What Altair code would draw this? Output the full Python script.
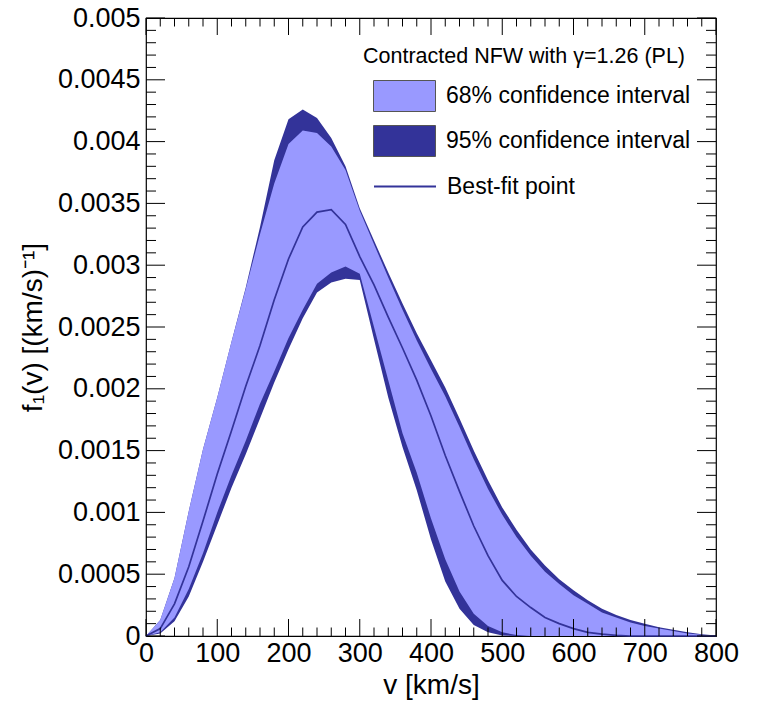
import altair as alt
import pandas as pd

# ---- data (v in km/s, f in (km/s)^-1) ----
v = list(range(0, 801, 20))

upper95 = [0, 0.00013, 0.00047, 0.00101, 0.00151, 0.00193, 0.00238, 0.00282, 0.00331, 0.00385,
           0.00418, 0.00426, 0.00419, 0.00403, 0.00380, 0.00346, 0.00320, 0.00294, 0.00269, 0.00245,
           0.00223, 0.00201, 0.00176, 0.00150, 0.00126, 0.00104, 0.00086, 0.00070, 0.00057, 0.00046,
           0.00037, 0.00029, 0.00022, 0.00017, 0.00013, 0.00010, 0.00007, 0.00005, 0.00003, 0.000015,
           0.000005]
upper68 = [0, 0.00013, 0.00047, 0.00101, 0.00151, 0.00193, 0.00238, 0.00281, 0.00325, 0.00366,
           0.00398, 0.00409, 0.00407, 0.00396, 0.00377, 0.00344, 0.00317, 0.00290, 0.00264, 0.00239,
           0.00216, 0.00194, 0.00169, 0.00143, 0.00119, 0.00098, 0.00080, 0.00065, 0.00052, 0.00042,
           0.00033, 0.00026, 0.00019, 0.00015, 0.00011, 0.00008, 0.00006, 0.00004, 0.00002, 0.00001,
           0.000003]
best = [0, 0.00006, 0.00026, 0.00056, 0.00093, 0.00131, 0.00166, 0.00202, 0.00235, 0.00272,
        0.00305, 0.00331, 0.00343, 0.00345, 0.00333, 0.00307, 0.00284, 0.00258, 0.00233, 0.00207,
        0.00178, 0.00146, 0.00117, 0.00089, 0.00065, 0.00045, 0.00032, 0.00023, 0.00015, 0.00010,
        0.00006, 0.00003, 0.000015, 0.000005, 0, 0, 0, 0, 0, 0,
        0]
lower68 = [0, 0.00003, 0.00015, 0.00038, 0.00067, 0.00100, 0.00130, 0.00158, 0.00188, 0.00214,
           0.00241, 0.00264, 0.00285, 0.00294, 0.00299, 0.00293, 0.00250, 0.00207, 0.00164, 0.00132,
           0.00095, 0.00062, 0.00036, 0.00018, 0.00008, 0.00003, 0.000008, 0, 0, 0,
           0, 0, 0, 0, 0, 0, 0, 0, 0, 0,
           0]
lower95 = [0, 0.00002, 0.00012, 0.00032, 0.00060, 0.00090, 0.00120, 0.00147, 0.00176, 0.00205,
           0.00232, 0.00257, 0.00278, 0.00286, 0.00289, 0.00288, 0.00240, 0.00193, 0.00153, 0.00118,
           0.00078, 0.00044, 0.00022, 0.00009, 0.00003, 0.000005, 0, 0, 0, 0,
           0, 0, 0, 0, 0, 0, 0, 0, 0, 0,
           0]

x_major = [0, 100, 200, 300, 400, 500, 600, 700, 800]
x_minor = [t for t in range(0, 801, 20) if t % 100 != 0]
y_major = [0, 0.0005, 0.001, 0.0015, 0.002, 0.0025, 0.003, 0.0035, 0.004, 0.0045, 0.005]
y_minor = [round(i * 0.0001, 4) for i in range(51) if i % 5 != 0]

LAB68 = "68% confidence interval"
LAB95 = "95% confidence interval"
LABBF = "Best-fit point"
LIGHT = "#9999ff"
DARK = "#333399"
FONT = "Liberation Sans"

W, H = 570, 618

band95 = pd.DataFrame({"v": v, "lo": lower95, "hi": upper95, "band": LAB95})
band68 = pd.DataFrame({"v": v, "lo": lower68, "hi": upper68, "band": LAB68})
bestdf = pd.DataFrame({"v": v, "f": best, "name": LABBF})

xs = alt.Scale(domain=[0, 800], nice=False, zero=False)
ys = alt.Scale(domain=[0, 0.005], nice=False, zero=False)

fill_scale = alt.Scale(domain=[LAB68, LAB95], range=[LIGHT, DARK])
fill_legend = alt.Legend(
    title="Contracted NFW with γ=1.26 (PL)", orient="none", legendX=217, legendY=28,
    symbolType="M-1,-0.5H1V0.5H-1Z", symbolSize=3844, symbolStrokeColor="#555555",
    symbolStrokeWidth=1, symbolOpacity=1, clipHeight=33, rowPadding=12, padding=0,
    titlePadding=12, titleFontSize=21.5, titleFontWeight="normal", titleFont=FONT,
    titleColor="black", titleLimit=500, labelLimit=500, labelFontSize=23, labelFont=FONT,
    labelColor="black", symbolOffset=10, labelOffset=10)

x_axis = alt.Axis(values=x_major, format="d", ticks=False, domain=False, grid=False,
                  labelFontSize=27, labelFont=FONT, labelColor="black", labelPadding=4,
                  title="v [km/s]", titleFontSize=28, titleFont=FONT, titleFontWeight="normal",
                  titleColor="black", titlePadding=5, labelFlush=False)
y_axis = alt.Axis(values=y_major, format="~g", ticks=False, domain=False, grid=False,
                  labelFontSize=27, labelFont=FONT, labelColor="black", labelPadding=6,
                  title="f₁(v) [(km/s)⁻¹]", titleFontSize=28, titleFont=FONT,
                  titleFontWeight="normal", titleColor="black", titlePadding=10, labelFlush=False)

area95 = alt.Chart(band95).mark_area(opacity=1, interpolate="linear").encode(
    x=alt.X("v:Q", scale=xs, axis=x_axis),
    y=alt.Y("hi:Q", scale=ys, axis=y_axis),
    y2="lo:Q",
    fill=alt.Fill("band:N", scale=fill_scale, legend=fill_legend),
)
area68 = alt.Chart(band68).mark_area(opacity=1, interpolate="linear").encode(
    x=alt.X("v:Q", scale=xs, axis=x_axis),
    y=alt.Y("hi:Q", scale=ys, axis=y_axis),
    y2="lo:Q",
    fill=alt.Fill("band:N", scale=fill_scale, legend=fill_legend),
)
line = alt.Chart(bestdf).mark_line(strokeWidth=1.7, interpolate="linear").encode(
    x=alt.X("v:Q", scale=xs, axis=x_axis),
    y=alt.Y("f:Q", scale=ys, axis=y_axis),
    stroke=alt.Stroke("name:N", scale=alt.Scale(domain=[LABBF], range=[DARK]),
                      legend=alt.Legend(title=None, orient="none", legendX=217, legendY=152,
                                        symbolType="stroke", symbolSize=3844,
                                        symbolStrokeWidth=2, clipHeight=33, padding=0,
                                        labelFontSize=23, labelFont=FONT, labelColor="black",
                                        labelLimit=500, symbolOffset=10, labelOffset=10)),
)

def yticks(vals, x0, x1):
    return alt.Chart(pd.DataFrame({"t": vals})).mark_rule(color="black", strokeWidth=1).encode(
        y=alt.Y("t:Q", scale=ys, axis=y_axis), x=alt.value(x0), x2=alt.value(x1))

def xticks(vals, y0, y1):
    return alt.Chart(pd.DataFrame({"t": vals})).mark_rule(color="black", strokeWidth=1).encode(
        x=alt.X("t:Q", scale=xs, axis=x_axis), y=alt.value(y0), y2=alt.value(y1))

ticks = [
    yticks(y_major, 0, 19), yticks(y_minor, 0, 10),
    yticks(y_major, W, W - 19), yticks(y_minor, W, W - 10),
    xticks(x_major, H, H - 17), xticks(x_minor, H, H - 8.5),
    xticks(x_major, 0, 17), xticks(x_minor, 0, 8.5),
]

chart = alt.layer(area95, area68, line, *ticks).properties(
    width=W, height=H,
    autosize=alt.AutoSizeParams(type="none"),
    padding={"left": 146, "top": 18, "right": 42, "bottom": 75},
    background="white",
).configure_view(stroke="black", strokeWidth=1.2)

chart.save("out.html", embed_options={"renderer": "svg", "actions": False})
